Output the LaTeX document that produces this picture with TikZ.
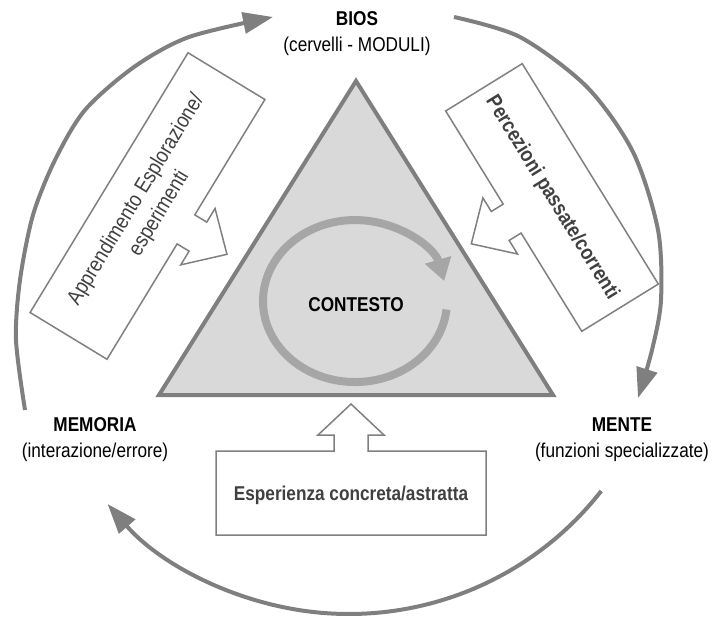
\documentclass[tikz,border=0pt]{standalone}
\usepackage{fontspec}
\usepackage{graphicx}
\setmainfont{Liberation Sans}[FakeStretch=0.86]
\newfontfamily\plainsans{Liberation Sans}
\usetikzlibrary{arrows.meta}
\definecolor{arcgray}{RGB}{127,127,127}
\definecolor{trifill}{RGB}{217,217,217}
\definecolor{innergray}{RGB}{166,166,166}
\definecolor{boxgray}{RGB}{128,128,128}
\definecolor{textgray}{RGB}{64,64,64}
\tikzset{
  cyc/.style={draw=arcgray, line width=4pt, -{Triangle[length=30pt,width=21pt]}},
  calloutbox/.style={draw=boxgray, line width=1.5pt, fill=white, line join=miter},
  tri/.style={draw=arcgray, line width=4pt, fill=trifill, line join=miter},
  inarc/.style={draw=innergray, line width=8pt, -{Triangle[length=22pt,width=26pt]}},
  headlbl/.style={font=\fontsize{20}{26}\selectfont, align=center, inner sep=0pt, text=black},
  boxtxt/.style={font=\fontsize{20}{26}\selectfont, align=center, inner sep=0pt, text=textgray},
  rottxt/.style={inner sep=0pt, text=textgray},
}
\begin{document}
\begin{tikzpicture}[x=1pt,y=-1pt]
\useasboundingbox (0,0) rectangle (712,619);

% outer cycle arrows
\coordinate (l0) at (25,410);
\coordinate (l1) at (273,17);
\coordinate (r0) at (454,17);
\coordinate (r1) at (638,398);
\coordinate (b0) at (601.2,491);
\draw[cyc] plot[smooth] coordinates {(l0) (16,340) (20,280) (33,215) (55,160) (85,110) (134,67) (189,37) (l1)};
\draw[cyc] plot[smooth] coordinates {(r0) (520,37) (587,87) (633,152) (658,230) (661,300) (652,350) (r1)};
\draw[cyc] (b0) arc[start angle=38, end angle=139, radius=320];

% left callout box
\begin{scope}[shift={(147.5,206)}, rotate=58.7]
\draw[calloutbox] (-152,-45) -- (152,-45) -- (152,45) -- (17,45) -- (17,59) -- (33,59) -- (0,93)
  -- (-33,59) -- (-17,59) -- (-17,45) -- (-152,45) -- cycle;
\end{scope}
% right callout box
\begin{scope}[shift={(552,197.5)}, rotate=-58.3]
\draw[calloutbox] (-129.5,-45) -- (129.5,-45) -- (129.5,45) -- (14,45) -- (14,59) -- (30,59) -- (-3,93)
  -- (-36,59) -- (-20,59) -- (-20,45) -- (-129.5,45) -- cycle;
\end{scope}
% bottom callout box
\draw[calloutbox] (216,451) -- (334,451) -- (334,435) -- (318,435) -- (351,404) -- (384,435)
  -- (368,435) -- (368,451) -- (486,451) -- (486,535) -- (216,535) -- cycle;

% triangle
\coordinate (apex) at (356,81);
\coordinate (bl) at (159,395);
\coordinate (br) at (553,395);
\draw[tri] (apex) -- (br) -- (bl) -- cycle;

% inner circular arrow
\coordinate (i0) at (446.5,309.5);
\draw[inarc] (i0) arc[start angle=6, end angle=345.7, x radius=92, y radius=81];

% labels
\node[headlbl] (bios) at (357,34) {\textbf{BIOS}\\(cervelli - MODULI)};
\node[headlbl] (memoria) at (95,440) {\textbf{MEMORIA}\\(interazione/errore)};
\node[headlbl] (mente) at (622,440) {\textbf{MENTE}\\(funzioni specializzate)};
\node[headlbl, font=\fontsize{20}{26}\selectfont\bfseries] (contesto) at (356,305) {CONTESTO};
\node[boxtxt, font=\fontsize{20}{26}\selectfont\bfseries] (esper) at (351,495) {Esperienza concreta/astratta};
\node[rottxt, rotate=58.7] (appr) at (148,207)
  {\scalebox{0.86}[1]{\plainsans\fontsize{21.5}{27}\selectfont\begin{tabular}{@{}c@{}}Apprendimento Esplorazione/\\esperimenti\end{tabular}}};
\node[rottxt, rotate=-58.3] (perc) at (552,198)
  {\scalebox{0.86}[1]{\plainsans\bfseries\fontsize{21}{26}\selectfont Percezioni passate/correnti}};
\end{tikzpicture}
\end{document}
